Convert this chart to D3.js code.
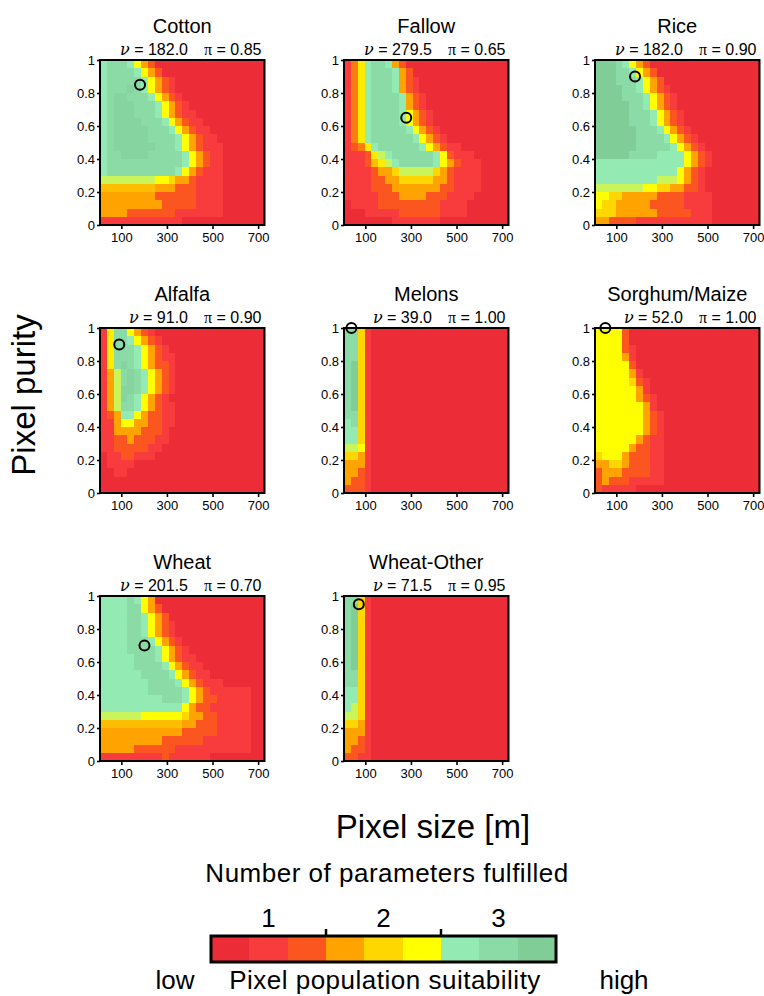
<!DOCTYPE html>
<html>
<head>
<meta charset="utf-8">
<script src="https://cdn.jsdelivr.net/npm/d3@7"></script>
<style>
  body { margin: 0; background: #fff; }
  svg { display: block; }
  text { font-family: "Liberation Sans", Arial, sans-serif; fill: #000; }
</style>
</head>
<body>
<svg id="chart" width="764" height="996"></svg>
<script>
// ---- data ---------------------------------------------------------------
const crops = ["Cotton", "Fallow", "Rice", "Alfalfa", "Melons", "Sorghum/Maize", "Wheat", "Wheat-Other"];
const optimalSize = [182.0, 279.5, 182.0, 91.0, 39.0, 52.0, 201.5, 71.5];     // ν  [m]
const optimalPurity = [0.85, 0.65, 0.90, 0.90, 1.00, 1.00, 0.70, 0.95];      // π
const sizeDomain = [6.5, 728];
const xTickValues = [100, 300, 500, 700];
const yTickValues = [0, 0.2, 0.4, 0.6, 0.8, 1];
const suitabilityColors = ["#ec2c36", "#f83c3e", "#fc5620", "#ffa300", "#ffd700",
                           "#ffff00", "#93ebb3", "#8bdba7", "#80cd98"];
const fulfilledLabels = ["1", "2", "3"];

// Suitability level per cell: one string per purity row (top row = 0.95–1.00),
// 24 pixel-size bins across each row. Digits 1–9 are levels; letters a–h are
// the half steps 1.5–8.5 between neighbouring levels.
const cotton = [
  "788876 431111 111111 111111",
  "788887 643111 111111 111111",
  "788888 764321 111111 111111",
  "7888h8 764321 111111 111111",
  "78hh88 876432 111111 111111",
  "78hhh8 887643 211111 111111",
  "78hhh8 887643 221111 111111",
  "78hhhh 888764 322111 111111",
  "78hhhh h88876 432211 111111",
  "78hhhh h88887 643221 111111",
  "78hhhh hh8887 643222 111111",
  "788hhh h88888 764322 111111",
  "788888 888888 764322 111111",
  "788888 888887 643222 111111",
  "ffffff ff6654 432222 111111",
  "dddddd dd4443 332222 111111",
  "444444 443333 332222 111111",
  "444444 444333 332222 111111",
  "444433 333332 222222 111111",
  "222222 222222 111111 111111"
];
const fallow = [
  "2ce788 743111 111111 111111",
  "2ce788 874311 111111 111111",
  "2ce788 874321 111111 111111",
  "2ce788 874321 111111 111111",
  "2ce788 887432 111111 111111",
  "2ce788 887432 111111 111111",
  "2ce788 887643 211111 111111",
  "2ce788 887643 211111 111111",
  "2ce788 888764 321111 111111",
  "2ce788 888876 432111 111111",
  "23ce78 888887 643221 111111",
  "2223ef 788888 876322 211111",
  "2223de f78888 876432 221111",
  "222234 45ffff f54322 221111",
  "222233 445555 544322 221111",
  "222233 344444 443322 221111",
  "222223 334444 333222 211111",
  "122223 333333 332222 111111",
  "111222 223333 332222 111111",
  "111111 122222 221111 111111"
];
const rice = [
  "999876 431111 111111 111111",
  "999887 643111 111111 111111",
  "999888 764311 111111 111111",
  "999988 764321 111111 111111",
  "999988 876432 111111 111111",
  "999998 876432 111111 111111",
  "999998 887643 211111 111111",
  "999998 887643 211111 111111",
  "999999 888764 321111 111111",
  "999999 888876 432111 111111",
  "999999 888887 643211 111111",
  "999998 888777 764321 111111",
  "777777 777777 764321 111111",
  "777777 777777 643211 111111",
  "777777 777fff 643211 111111",
  "ffffff f66554 433211 111111",
  "665544 444333 322221 111111",
  "655444 443333 322221 111111",
  "555444 444333 332221 111111",
  "443333 222222 222221 111111"
];
const alfalfa = [
  "2e8864 321111 111111 111111",
  "2e8876 432111 111111 111111",
  "2e8887 643211 111111 111111",
  "2e8887 643221 111111 111111",
  "2e8h87 643321 111111 111111",
  "24f8h8 764321 111111 111111",
  "24f8h8 764321 111111 111111",
  "24fhh8 764321 111111 111111",
  "24fh87 643211 111111 111111",
  "24f887 643221 111111 111111",
  "234776 433221 111111 111111",
  "224664 433221 111111 111111",
  "224444 333211 111111 111111",
  "223343 332211 111111 111111",
  "223333 322111 111111 111111",
  "122332 221111 111111 111111",
  "122221 111111 111111 111111",
  "112211 111111 111111 111111",
  "111111 111111 111111 111111",
  "111111 111111 111111 111111"
];
const melons = [
  "885211 111111 111111 111111",
  "885211 111111 111111 111111",
  "885211 111111 111111 111111",
  "885211 111111 111111 111111",
  "895211 111111 111111 111111",
  "895211 111111 111111 111111",
  "895211 111111 111111 111111",
  "895211 111111 111111 111111",
  "895211 111111 111111 111111",
  "895211 111111 111111 111111",
  "885211 111111 111111 111111",
  "785211 111111 111111 111111",
  "775211 111111 111111 111111",
  "775211 111111 111111 111111",
  "ff6211 111111 111111 111111",
  "554211 111111 111111 111111",
  "444211 111111 111111 111111",
  "443211 111111 111111 111111",
  "433211 111111 111111 111111",
  "333211 111111 111111 111111"
];
const sorghumMaize = [
  "666631 111111 111111 111111",
  "666631 111111 111111 111111",
  "666632 111111 111111 111111",
  "666642 111111 111111 111111",
  "666663 111111 111111 111111",
  "666664 211111 111111 111111",
  "666665 321111 111111 111111",
  "666666 421111 111111 111111",
  "666666 432111 111111 111111",
  "666666 642111 111111 111111",
  "666666 643211 111111 111111",
  "666666 643211 111111 111111",
  "666666 643211 111111 111111",
  "666666 432211 111111 111111",
  "666664 332211 111111 111111",
  "566643 332211 111111 111111",
  "445543 332211 111111 111111",
  "344433 332211 111111 111111",
  "343332 222211 111111 111111",
  "322222 111111 111111 111111"
];
const wheat = [
  "777787 641111 111111 111111",
  "777788 643111 111111 111111",
  "777788 764311 111111 111111",
  "777788 764321 111111 111111",
  "777788 764321 111111 111111",
  "777788 876432 111111 111111",
  "777788 887643 211111 111111",
  "777778 887643 221111 111111",
  "777778 888764 322111 111111",
  "777777 888876 432211 111111",
  "777777 788887 643222 111111",
  "777777 788888 764322 222211",
  "777777 777888 764332 222211",
  "777777 777777 643322 222211",
  "ffffff 666666 544332 222211",
  "dddddd dddddd 443332 222211",
  "444444 444444 333332 222211",
  "444444 444333 333222 222211",
  "444443 333332 222222 222211",
  "222222 222322 222211 111111"
];
const wheatOther = [
  "885211 111111 111111 111111",
  "895211 111111 111111 111111",
  "895211 111111 111111 111111",
  "895211 111111 111111 111111",
  "895211 111111 111111 111111",
  "895211 111111 111111 111111",
  "895211 111111 111111 111111",
  "895211 111111 111111 111111",
  "895211 111111 111111 111111",
  "885211 111111 111111 111111",
  "885211 111111 111111 111111",
  "775211 111111 111111 111111",
  "775211 111111 111111 111111",
  "7f5211 111111 111111 111111",
  "ff5211 111111 111111 111111",
  "554211 111111 111111 111111",
  "444211 111111 111111 111111",
  "443211 111111 111111 111111",
  "433211 111111 111111 111111",
  "332211 111111 111111 111111"
];
const suitabilityGrids = [cotton, fallow, rice, alfalfa, melons, sorghumMaize, wheat, wheatOther];

// ---- scales ---------------------------------------------------------------
const svg = d3.select("#chart");
const panelLeft = [100, 344, 595];
const panelTop = [60, 328, 596];
const W = 164.5, H = 165;

const x = d3.scaleLinear().domain(sizeDomain).range([0, W]);
const y = d3.scaleLinear().domain([0, 1]).range([H, 0]);
// continuous level -> colour through the nine suitability colours
const color = d3.scaleLinear().domain(d3.range(1, 10)).range(suitabilityColors)
  .interpolate(d3.interpolateRgb).clamp(true);
const parseLevel = ch => (ch >= "1" && ch <= "9") ? +ch : (ch.charCodeAt(0) - 96) + 0.5;

svg.append("defs").append("clipPath").attr("id", "plotClip")
  .append("rect").attr("width", W).attr("height", H);

suitabilityGrids.forEach((grid, k) => {
  const g = svg.append("g")
    .attr("transform", `translate(${panelLeft[k % 3]},${panelTop[Math.floor(k / 3)]})`);

  const rows = grid.map(s => s.replace(/\s/g, "").split("").map(parseLevel));
  const nRows = rows.length, nCols = rows[0].length;
  const sizeEdge = i => sizeDomain[0] + (sizeDomain[1] - sizeDomain[0]) * i / nCols;
  const purityTop = j => 1 - j / nRows;
  const cells = rows.flatMap((r, j) => r.map((v, i) => ({ i, j, v })));

  g.append("g").attr("clip-path", "url(#plotClip)")
    .selectAll("rect").data(cells).join("rect")
    .attr("x", d => x(sizeEdge(d.i)))
    .attr("y", d => y(purityTop(d.j)))
    .attr("width", d => x(sizeEdge(d.i + 1)) - x(sizeEdge(d.i)) + 0.6)
    .attr("height", d => y(purityTop(d.j + 1)) - y(purityTop(d.j)) + 0.6)
    .attr("fill", d => color(d.v))
    .attr("shape-rendering", "crispEdges");

  // axes
  const yAxis = g.append("g")
    .call(d3.axisLeft(y).tickValues(yTickValues).tickSize(3).tickPadding(2).tickSizeOuter(0)
      .tickFormat(d => (d === 0 || d === 1) ? String(d) : d.toFixed(1)));
  const xAxis = g.append("g").attr("transform", `translate(0,${H})`)
    .call(d3.axisBottom(x).tickValues(xTickValues).tickSize(4).tickPadding(4).tickSizeOuter(0));
  [yAxis, xAxis].forEach(a => {
    a.select(".domain").remove();
    a.selectAll(".tick line").attr("stroke", "#000").attr("stroke-width", 1.6);
    a.selectAll(".tick text").style("font-size", "13px").attr("fill", "#000")
      .style("font-family", '"Liberation Sans", Arial, sans-serif');
  });

  g.append("rect").attr("width", W).attr("height", H)
    .attr("fill", "none").attr("stroke", "#000").attr("stroke-width", 2);

  // optimum marker
  g.append("circle")
    .attr("cx", x(optimalSize[k])).attr("cy", y(optimalPurity[k])).attr("r", 5)
    .attr("fill", "none").attr("stroke", "#000").attr("stroke-width", 2);

  // titles
  g.append("text").attr("x", W / 2).attr("y", -27).attr("text-anchor", "middle")
    .style("font-size", "20px").text(crops[k]);

  const nuText = g.append("text").attr("x", 88).attr("y", -5)
    .attr("text-anchor", "end").style("font-size", "16px");
  nuText.append("tspan").style("font-family", '"DejaVu Serif", serif').style("font-style", "italic").text("ν");
  nuText.append("tspan").text(" = " + optimalSize[k].toFixed(1));

  const piText = g.append("text").attr("x", 104).attr("y", -5)
    .attr("text-anchor", "start").style("font-size", "16px");
  piText.append("tspan").style("font-family", '"Liberation Serif", serif').text("π");
  piText.append("tspan").text(" = " + optimalPurity[k].toFixed(2));
});

// ---- shared axis titles ------------------------------------------------------
svg.append("text")
  .attr("transform", "translate(35,395) rotate(-90)")
  .attr("text-anchor", "middle").style("font-size", "33px").text("Pixel purity");

svg.append("text").attr("x", 433).attr("y", 838)
  .attr("text-anchor", "middle").style("font-size", "33px").text("Pixel size [m]");

// ---- colour bar --------------------------------------------------------------
svg.append("text").attr("x", 387).attr("y", 882)
  .attr("text-anchor", "middle").style("font-size", "26px").style("letter-spacing", "0.5px")
  .text("Number of parameters fulfilled");

const barX = 211, barW = 345, barY = 936, barH = 26;
const band = d3.scaleBand().domain(d3.range(1, 10)).range([barX, barX + barW]);
const bar = svg.append("g");
bar.selectAll("rect").data(band.domain()).join("rect")
  .attr("x", d => band(d)).attr("y", barY)
  .attr("width", band.bandwidth() + 0.5).attr("height", barH)
  .attr("fill", d => color(d)).attr("shape-rendering", "crispEdges");
bar.append("rect").attr("x", barX).attr("y", barY).attr("width", barW).attr("height", barH)
  .attr("fill", "none").attr("stroke", "#000").attr("stroke-width", 3);

const groupScale = d3.scaleBand().domain(fulfilledLabels).range([barX, barX + barW]);
bar.selectAll("line.sep").data(fulfilledLabels.slice(1)).join("line")
  .attr("x1", d => groupScale(d)).attr("x2", d => groupScale(d))
  .attr("y1", barY - 7).attr("y2", barY)
  .attr("stroke", "#000").attr("stroke-width", 2.5);
bar.selectAll("text.lab").data(fulfilledLabels).join("text")
  .attr("x", d => groupScale(d) + groupScale.bandwidth() / 2).attr("y", 927)
  .attr("text-anchor", "middle").style("font-size", "26px").text(d => d);

svg.append("text").attr("x", 175).attr("y", 989).attr("text-anchor", "middle")
  .style("font-size", "26px").text("low");
svg.append("text").attr("x", 385).attr("y", 989).attr("text-anchor", "middle")
  .style("font-size", "26px").style("letter-spacing", "0.5px").text("Pixel population suitability");
svg.append("text").attr("x", 624).attr("y", 989).attr("text-anchor", "middle")
  .style("font-size", "26px").text("high");
</script>
</body>
</html>
